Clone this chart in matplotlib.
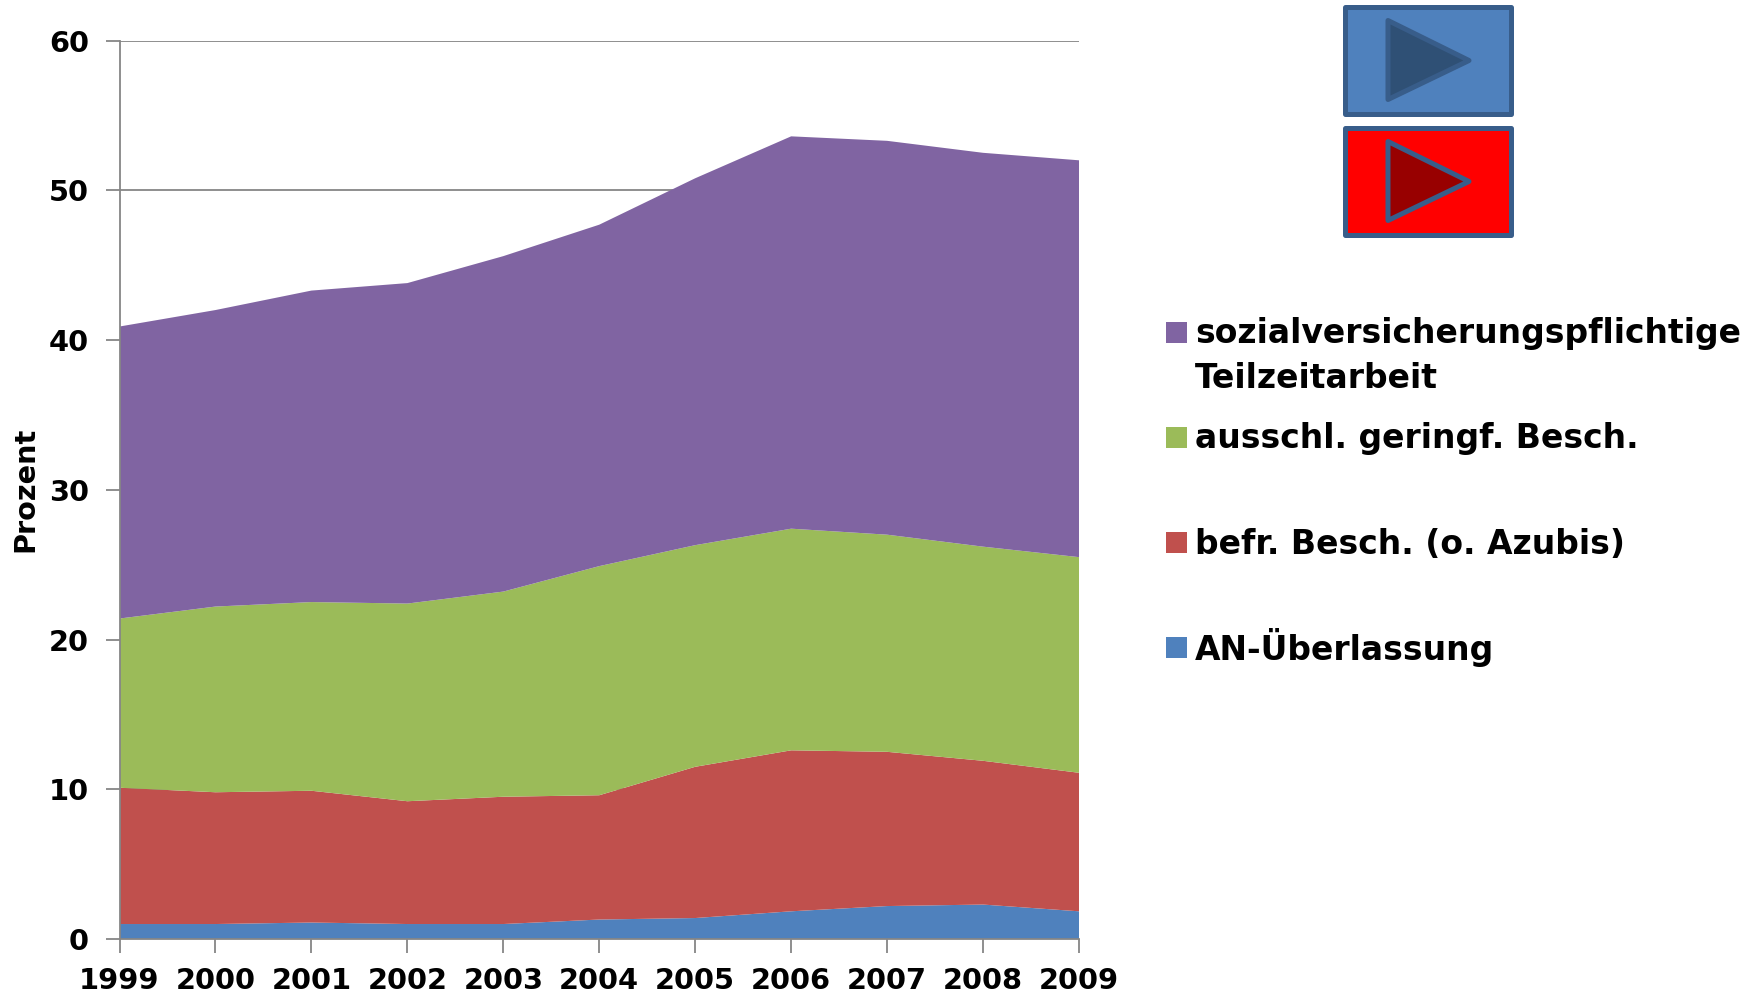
import numpy as np
import matplotlib
matplotlib.use("Agg")
import matplotlib.pyplot as plt
from matplotlib.patches import Rectangle, Polygon

years = [1999, 2000, 2001, 2002, 2003, 2004, 2005, 2006, 2007, 2008, 2009]

# layer thickness per year
an_ueberlassung = [1.0, 1.0, 1.1, 1.0, 1.0, 1.3, 1.4, 1.85, 2.2, 2.3, 1.85]
befristet = [9.1, 8.8, 8.8, 8.2, 8.5, 8.3, 10.1, 10.75, 10.3, 9.6, 9.25]
geringfuegig = [11.3, 12.4, 12.6, 13.2, 13.7, 15.3, 14.8, 14.8, 14.5, 14.3, 14.4]
teilzeit = [19.5, 19.8, 20.8, 21.4, 22.4, 22.8, 24.5, 26.2, 26.3, 26.3, 26.5]

colors = ["#4F81BD", "#C0504D", "#9BBB59", "#8064A2"]
labels = ["AN-Überlassung", "befr. Besch. (o. Azubis)", "ausschl. geringf. Besch.",
          "sozialversicherungspflichtige\nTeilzeitarbeit"]

W, H = 1762, 994
plt.rcParams["font.family"] = ["DejaVu Sans"]
plt.rcParams["font.weight"] = "bold"

fig = plt.figure(figsize=(W / 100, H / 100), dpi=100)
ax = fig.add_axes([119.5 / W, 1 - 939 / H, (1079 - 119.5) / W, (939 - 40.5) / H])

ax.stackplot(years, an_ueberlassung, befristet, geringfuegig, teilzeit, colors=colors, linewidth=0, zorder=2)

ax.set_xlim(1999, 2009)
ax.set_ylim(0, 60)
ax.set_yticks(range(0, 61, 10))
ax.set_xticks(years)
ax.grid(axis="y", color="#868686", linewidth=1.3, zorder=1)
ax.tick_params(axis="both", color="#868686", width=1.3, length=10, labelsize=20.8)
ax.tick_params(axis="x", pad=10.5)
ax.tick_params(axis="y", pad=12)
ax.spines["top"].set_visible(False)
ax.spines["right"].set_visible(False)
for side in ["left", "bottom"]:
    ax.spines[side].set_color("#868686")
    ax.spines[side].set_linewidth(1.3)
    ax.spines[side].set_zorder(5)
ax.set_ylabel("Prozent", fontsize=20.7, fontweight="bold", labelpad=7)


def px_rect(x0, y0, x1, y1, **kw):
    fig.add_artist(Rectangle((x0 / W, 1 - y1 / H), (x1 - x0) / W, (y1 - y0) / H,
                             transform=fig.transFigure, **kw))


def px_tri(pts, **kw):
    fig.add_artist(Polygon([(x / W, 1 - y / H) for x, y in pts], closed=True,
                           transform=fig.transFigure, **kw))


# hand-placed legend, the first entry takes two lines
legend_y = [332.5, 437.5, 542.5, 647.5]
legend_base = [343, 448, 554, 660]
for c, lab, y, b in zip(colors[::-1], labels[::-1], legend_y, legend_base):
    px_rect(1166, y - 10.5, 1187, y + 10.5, facecolor=c, edgecolor="none")
    first, *rest = lab.split("\n")
    fig.text(1195 / W, 1 - b / H, first, fontsize=23.8, fontweight="bold", va="baseline", ha="left", color="black")
    for line in rest:
        fig.text(1195 / W, 1 - (b + 45) / H, line, fontsize=23.8, fontweight="bold", va="baseline", ha="left",
                 color="black")

# the two play buttons
edge = "#385D8A"
for top, fill, dark in [(7.5, "#4F81BD", "#2F5075"), (128.5, "#FF0000", "#980000")]:
    px_rect(1344.5, top, 1510.5, top + 106, facecolor=fill, edgecolor=edge, linewidth=3.6, joinstyle="round")
    px_tri([(1388, top + 13), (1469, top + 53), (1388, top + 92)], facecolor=dark, edgecolor=edge,
           linewidth=3.6, joinstyle="round")

fig.savefig("out.png", dpi=100)
